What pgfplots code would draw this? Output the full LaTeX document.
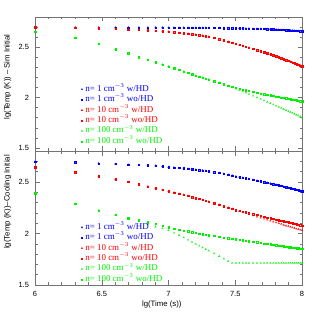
\documentclass[border=0pt]{standalone}
\usepackage{pgfplots}
\pgfplotsset{compat=1.18}
\usepackage{pgfplotstable}
\usepackage{fontspec}
\setmainfont{Liberation Sans}
\newfontfamily\legfont{Liberation Serif}
\pgfplotstableread{
x bt rt gtu gtl bb rbu rbl gbu gbl
6.000 2.700 2.700 2.655 2.655 2.697 2.642 2.642 2.393 2.393
6.301 2.697 2.693 2.593 2.593 2.690 2.593 2.593 2.289 2.289
6.477 2.697 2.690 2.533 2.533 2.680 2.556 2.556 2.224 2.224
6.602 2.697 2.683 2.480 2.480 2.675 2.525 2.525 2.182 2.180
6.699 2.697 2.677 2.440 2.440 2.668 2.500 2.500 2.150 2.146
6.778 2.696 2.672 2.403 2.403 2.665 2.478 2.478 2.128 2.118
6.845 2.696 2.668 2.378 2.378 2.661 2.457 2.457 2.110 2.093
6.903 2.696 2.663 2.352 2.352 2.658 2.438 2.438 2.093 2.066
6.954 2.696 2.660 2.330 2.330 2.652 2.423 2.423 2.076 2.048
7.000 2.695 2.655 2.310 2.310 2.645 2.410 2.410 2.061 2.030
7.041 2.695 2.650 2.292 2.292 2.641 2.398 2.398 2.049 2.006
7.079 2.695 2.646 2.275 2.275 2.636 2.386 2.386 2.039 1.983
7.114 2.695 2.641 2.259 2.259 2.632 2.375 2.375 2.030 1.960
7.146 2.694 2.636 2.245 2.245 2.628 2.364 2.364 2.022 1.938
7.176 2.694 2.631 2.231 2.231 2.624 2.354 2.354 2.014 1.917
7.204 2.694 2.626 2.218 2.218 2.620 2.344 2.344 2.007 1.898
7.230 2.694 2.621 2.207 2.207 2.616 2.335 2.335 2.001 1.880
7.255 2.693 2.616 2.197 2.197 2.612 2.326 2.326 1.995 1.863
7.279 2.693 2.610 2.188 2.188 2.608 2.317 2.317 1.990 1.847
7.301 2.693 2.605 2.180 2.180 2.604 2.309 2.309 1.985 1.833
7.342 2.692 2.593 2.163 2.163 2.596 2.294 2.294 1.977 1.806
7.380 2.692 2.581 2.148 2.148 2.588 2.279 2.279 1.969 1.780
7.415 2.691 2.569 2.134 2.132 2.580 2.265 2.265 1.962 1.755
7.447 2.691 2.556 2.121 2.117 2.572 2.252 2.252 1.956 1.731
7.477 2.690 2.544 2.109 2.102 2.563 2.240 2.240 1.950 1.713
7.505 2.690 2.533 2.098 2.087 2.554 2.228 2.226 1.945 1.713
7.531 2.689 2.523 2.088 2.073 2.547 2.220 2.216 1.940 1.713
7.556 2.688 2.514 2.080 2.060 2.541 2.212 2.206 1.935 1.713
7.580 2.687 2.505 2.072 2.047 2.535 2.205 2.196 1.930 1.713
7.602 2.686 2.496 2.067 2.035 2.529 2.198 2.187 1.926 1.713
7.633 2.685 2.484 2.058 2.018 2.521 2.189 2.175 1.920 1.713
7.663 2.684 2.472 2.049 2.001 2.513 2.180 2.163 1.914 1.713
7.690 2.683 2.462 2.042 1.986 2.506 2.171 2.152 1.909 1.713
7.716 2.682 2.451 2.035 1.971 2.499 2.163 2.142 1.904 1.713
7.740 2.681 2.441 2.029 1.957 2.493 2.156 2.132 1.899 1.713
7.763 2.679 2.431 2.023 1.944 2.486 2.149 2.123 1.895 1.713
7.785 2.678 2.420 2.017 1.931 2.480 2.142 2.114 1.890 1.713
7.806 2.676 2.410 2.012 1.919 2.473 2.136 2.106 1.886 1.713
7.826 2.675 2.400 2.007 1.907 2.467 2.130 2.098 1.882 1.713
7.845 2.673 2.390 2.002 1.896 2.461 2.124 2.091 1.879 1.713
7.863 2.672 2.381 1.998 1.885 2.455 2.119 2.083 1.875 1.713
7.881 2.670 2.372 1.993 1.874 2.449 2.113 2.076 1.872 1.713
7.898 2.669 2.364 1.989 1.864 2.443 2.108 2.070 1.869 1.713
7.914 2.667 2.356 1.985 1.855 2.438 2.103 2.063 1.866 1.713
7.929 2.666 2.348 1.981 1.846 2.433 2.099 2.057 1.863 1.713
7.944 2.664 2.341 1.977 1.837 2.428 2.094 2.051 1.861 1.713
7.959 2.663 2.333 1.973 1.828 2.423 2.090 2.045 1.858 1.713
7.973 2.662 2.327 1.970 1.820 2.419 2.085 2.040 1.856 1.713
7.987 2.661 2.320 1.966 1.811 2.414 2.081 2.035 1.855 1.713
8.000 2.660 2.313 1.963 1.803 2.410 2.077 2.030 1.853 1.713
}\data
\definecolor{axgray}{gray}{0.45}
\definecolor{mygreen}{rgb}{0,0.95,0}
\definecolor{myblue}{rgb}{0,0,1}
\definecolor{myred}{rgb}{1,0,0}
\pgfplotsset{
  myax/.style={
    width=267bp, height=134bp, scale only axis, anchor=south west,
    xmin=6, xmax=8, clip=false,
    xtick={6,6.5,7,7.5,8},
    minor xtick={6.1,6.2,6.3,6.4,6.6,6.7,6.8,6.9,7.1,7.2,7.3,7.4,7.6,7.7,7.8,7.9},
    ytick={1.5,2,2.5},
    minor ytick={1.6,1.7,1.8,1.9,2.1,2.2,2.3,2.4,2.6,2.7},
    tick align=inside, major tick length=4.5bp, minor tick length=2.5bp,
    axis line style={axgray, line width=0.5bp},
    every tick/.style={axgray, line width=0.5bp},
    tick label style={font=\fontsize{7.5}{8}\selectfont},
    /pgf/number format/assume math mode=true,
    yticklabel style={xshift=-2.5bp},
    xticklabel style={yshift=-3bp},
    label style={font=\fontsize{7.8}{9}\selectfont},
    legend cell align=left,
    legend image code/.code={\draw[mark repeat=2,mark phase=2,##1] plot coordinates {(0bp,0bp) (2.5bp,0bp) (5bp,0bp)};},
    every axis plot/.append style={only marks, line width=0.3bp},
  },
  tri/.style={mark=triangle, mark size=0.95bp},
  sqr/.style={mark=square, mark size=0.7bp},
  myleg/.style={anchor=north west, draw=none, fill=none, inner sep=0pt,
    font=\legfont\fontsize{9}{10}\selectfont, row sep=1.4bp,
    nodes={inner xsep=2.5bp, inner ysep=0.5bp, text height=6bp, text depth=2bp}},
}
\begin{document}
\begin{tikzpicture}
\path[use as bounding box] (0,0) rectangle (319bp,319bp);
\begin{axis}[myax, at={(35bp,168bp)}, ymin=1.47, ymax=2.8,
  xticklabels={},
  ylabel={lg(Temp (K)) -- Sim Initial},
  ylabel style={at={(axis description cs:-0.103,0.552)}, anchor=center},
  legend style={myleg, at={(axis description cs:0.172,0.495)}},
]
\addplot[myblue, tri] table[x=x, y=bt] {\data}; \addlegendentry{\textcolor{myblue}{n= 1 cm$^{-3}$ w/HD}}
\addplot[myblue, sqr] table[x=x, y=bt] {\data}; \addlegendentry{\textcolor{myblue}{n= 1 cm$^{-3}$ wo/HD}}
\addplot[myred, tri] table[x=x, y=rt] {\data}; \addlegendentry{\textcolor{myred}{n= 10 cm$^{-3}$ w/HD}}
\addplot[myred, sqr] table[x=x, y=rt] {\data}; \addlegendentry{\textcolor{myred}{n= 10 cm$^{-3}$ wo/HD}}
\addplot[mygreen, tri] table[x=x, y=gtl] {\data}; \addlegendentry{\textcolor{mygreen}{n= 100 cm$^{-3}$ w/HD}}
\addplot[mygreen, sqr] table[x=x, y=gtu] {\data}; \addlegendentry{\textcolor{mygreen}{n= 100 cm$^{-3}$ wo/HD}}
\end{axis}
\begin{axis}[myax, at={(35bp,34bp)}, ymin=1.5, ymax=2.8,
  xlabel={lg(Time (s))},
  xlabel style={at={(axis description cs:0.475,-0.149)}, anchor=center},
  ylabel={lg(Temp (K))--Cooling Initial},
  ylabel style={at={(axis description cs:-0.103,0.62)}, anchor=center},
  legend style={myleg, at={(axis description cs:0.172,0.465)}},
]
\addplot[myblue, tri] table[x=x, y=bb] {\data}; \addlegendentry{\textcolor{myblue}{n= 1 cm$^{-3}$ w/HD}}
\addplot[myblue, sqr] table[x=x, y=bb] {\data}; \addlegendentry{\textcolor{myblue}{n= 1 cm$^{-3}$ wo/HD}}
\addplot[myred, tri] table[x=x, y=rbl] {\data}; \addlegendentry{\textcolor{myred}{n= 10 cm$^{-3}$ w/HD}}
\addplot[myred, sqr] table[x=x, y=rbu] {\data}; \addlegendentry{\textcolor{myred}{n= 10 cm$^{-3}$ wo/HD}}
\addplot[mygreen, tri] table[x=x, y=gbl] {\data}; \addlegendentry{\textcolor{mygreen}{n= 100 cm$^{-3}$ w/HD}}
\addplot[mygreen, sqr] table[x=x, y=gbu] {\data}; \addlegendentry{\textcolor{mygreen}{n= 100 cm$^{-3}$ wo/HD}}
\end{axis}
\end{tikzpicture}
\end{document}
